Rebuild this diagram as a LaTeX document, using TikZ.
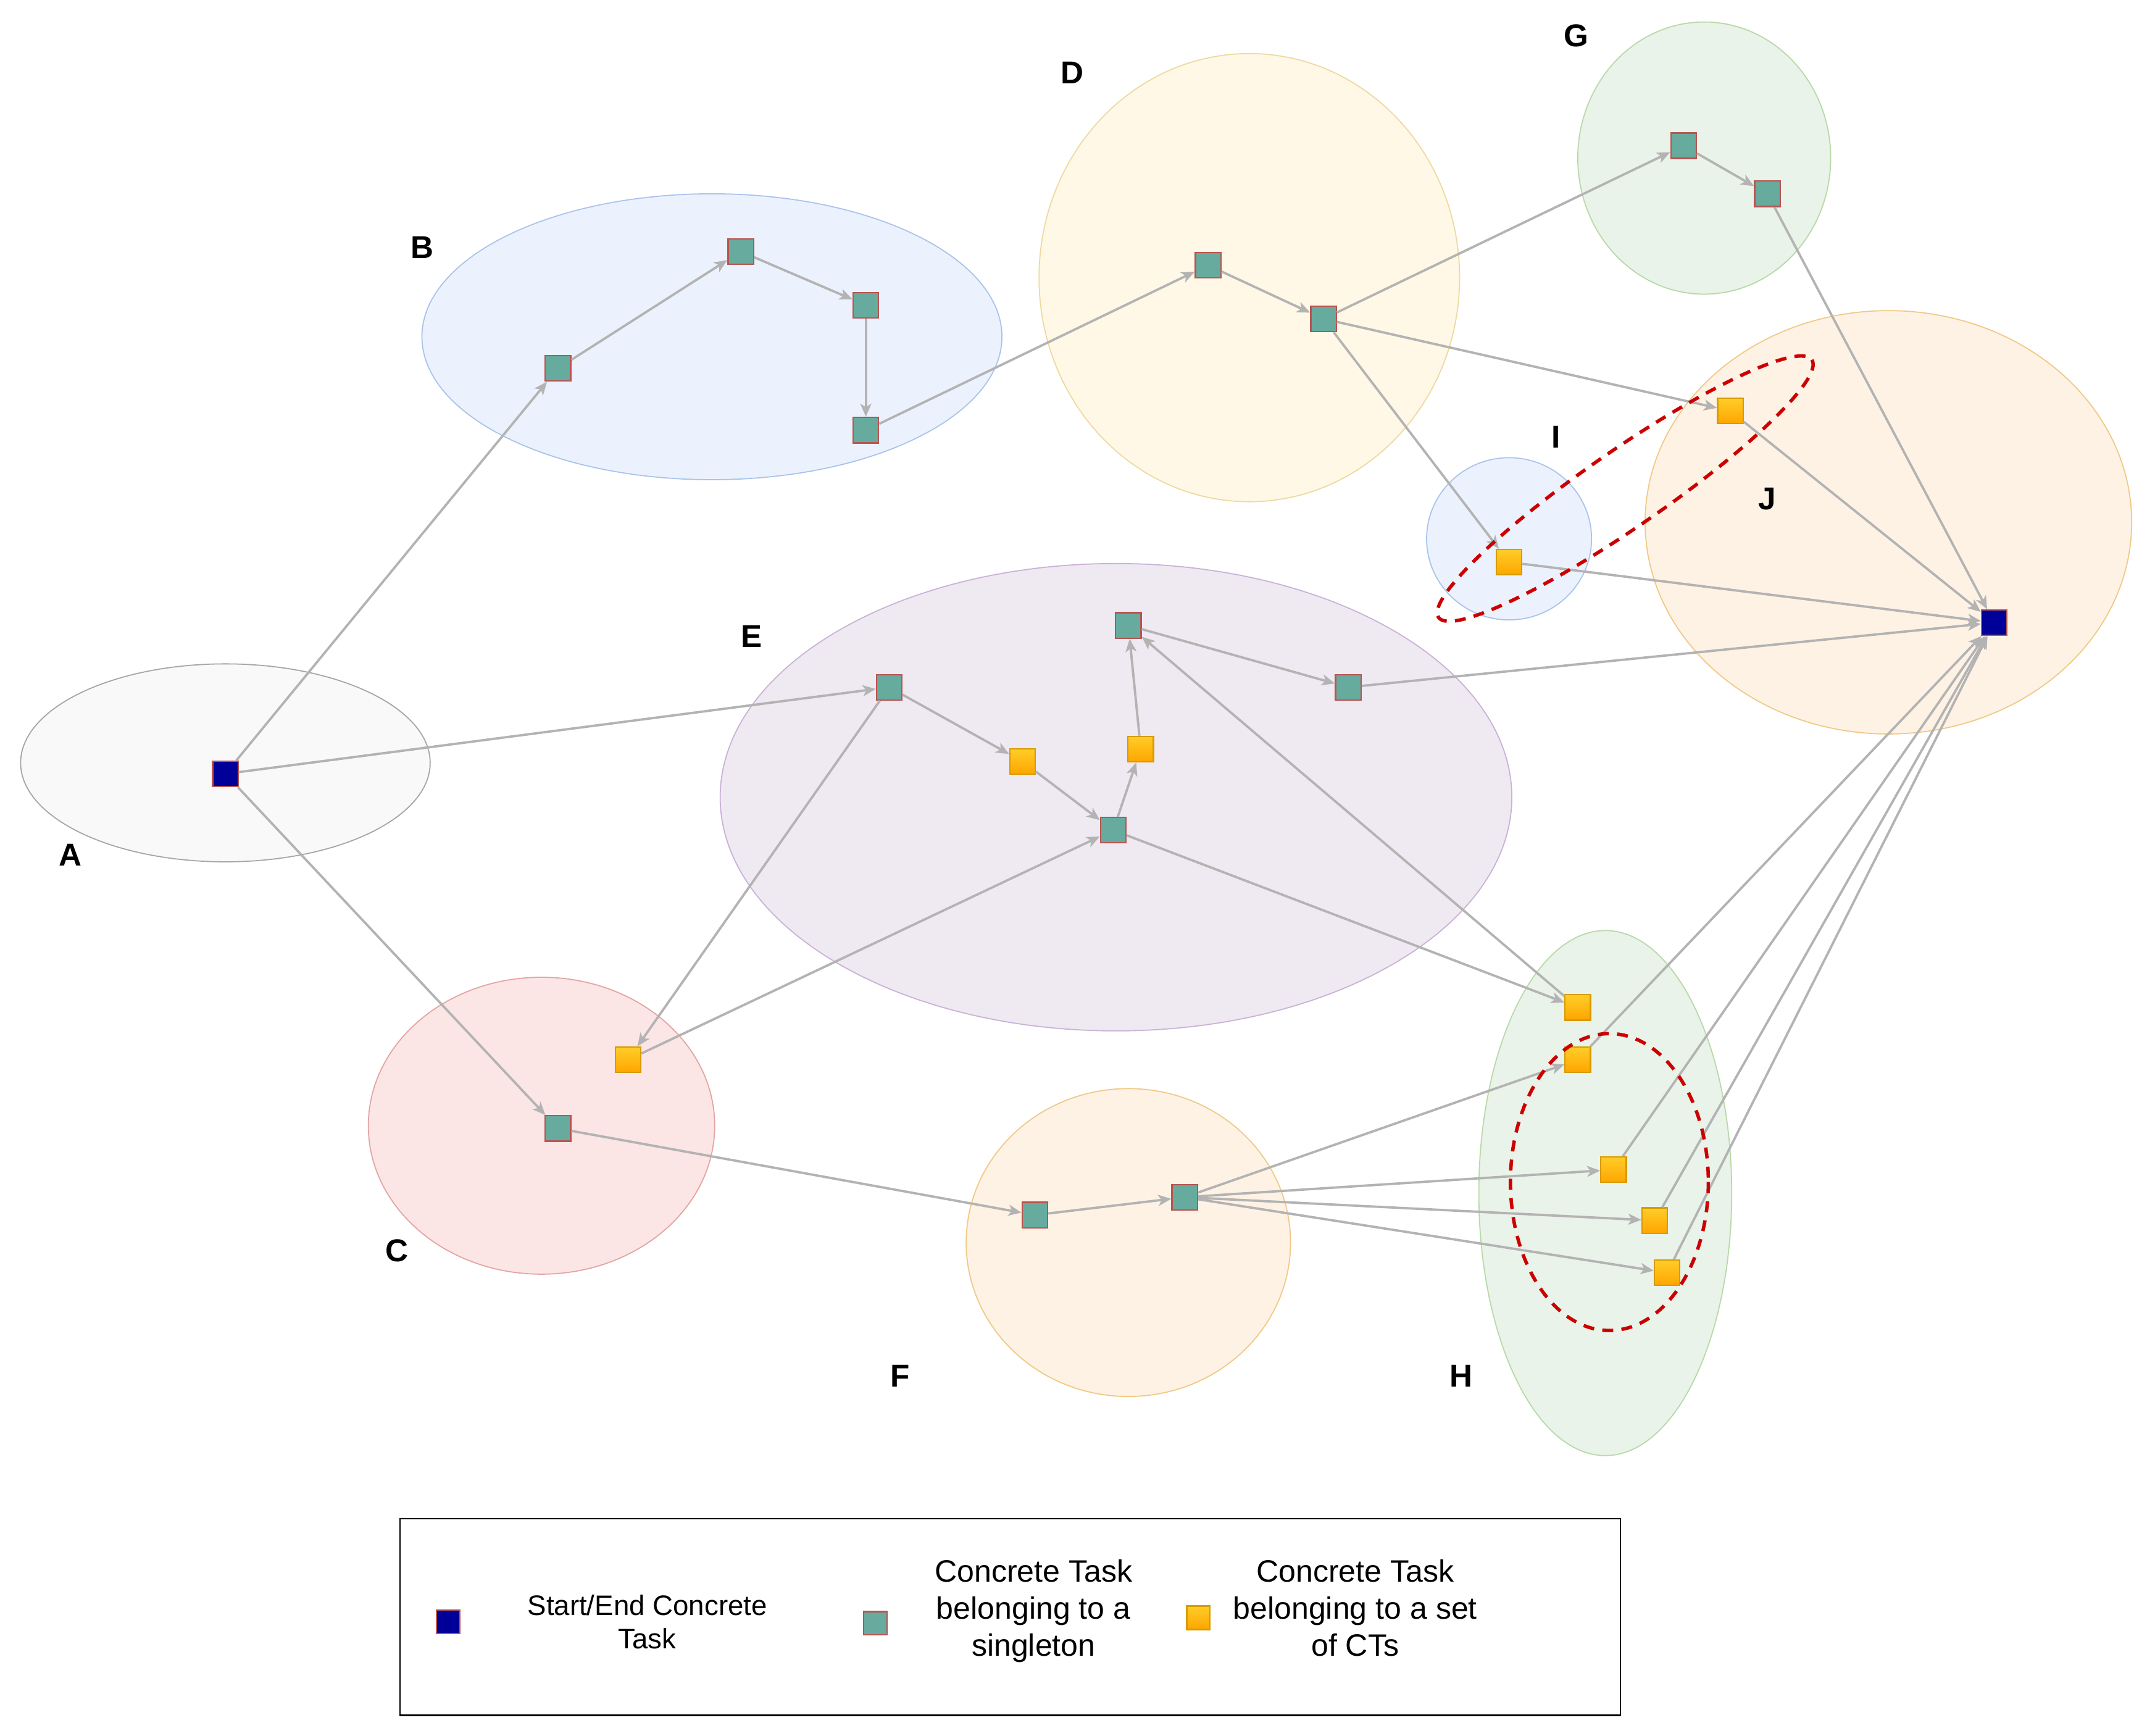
\documentclass[tikz,border=0pt]{standalone}
\usepackage{fontspec}
\setmainfont{Liberation Sans}
\usetikzlibrary{arrows.meta}
\definecolor{edgegray}{HTML}{B3B3B3}
\definecolor{sqborder}{HTML}{B85450}
\definecolor{darkblue}{HTML}{000099}
\definecolor{tealgreen}{HTML}{67AB9F}
\definecolor{yelborder}{HTML}{D79B00}
\definecolor{yeltop}{HTML}{FFCD28}
\definecolor{yelbot}{HTML}{FFA500}
\definecolor{dashred}{HTML}{CC0000}
\definecolor{aFill}{HTML}{F9F9F9}\definecolor{aDraw}{HTML}{A6A6A6}
\definecolor{bFill}{HTML}{ECF2FD}\definecolor{bDraw}{HTML}{A9C4EB}
\definecolor{cFill}{HTML}{FBE6E5}\definecolor{cDraw}{HTML}{E3A5A3}
\definecolor{dFill}{HTML}{FFF8E6}\definecolor{dDraw}{HTML}{EED9A0}
\definecolor{eFill}{HTML}{EFE9F2}\definecolor{eDraw}{HTML}{C9B2D6}
\definecolor{fFill}{HTML}{FEF2E5}\definecolor{fDraw}{HTML}{F0C987}
\definecolor{gFill}{HTML}{E9F3E9}\definecolor{gDraw}{HTML}{B8D9A8}
\begin{document}
\begin{tikzpicture}[x=1pt,y=-1pt,
  blob/.style={line width=0.8pt},
  sq/.style={minimum size=18.5pt, inner sep=0pt, line width=1pt, draw=sqborder},
  startend/.style={sq, fill=darkblue},
  single/.style={sq, fill=tealgreen},
  setct/.style={sq, draw=yelborder, top color=yeltop, bottom color=yelbot},
  flow/.style={draw=edgegray, line width=1.7pt, -{Stealth[length=9.5pt,width=8pt,inset=2.5pt]}},
  glabel/.style={font=\fontsize{23}{27}\selectfont\bfseries, inner sep=0pt},
  setring/.style={draw=dashred, line width=2.5pt, dash pattern=on 8pt off 6pt},
  legtext/.style={align=center, inner sep=0pt}
]
\useasboundingbox (0,0) rectangle (1568,1263);
\fill[white] (0,0) rectangle (1568,1263);

% group ellipses
\draw[blob, fill=aFill, draw=aDraw] (164,555) ellipse [x radius=149, y radius=72];
\draw[blob, fill=bFill, draw=bDraw] (518,245) ellipse [x radius=211, y radius=104];
\draw[blob, fill=cFill, draw=cDraw] (394,819) ellipse [x radius=126, y radius=108];
\draw[blob, fill=dFill, draw=dDraw] (909,202) ellipse [x radius=153, y radius=163];
\draw[blob, fill=eFill, draw=eDraw] (812,580) ellipse [x radius=288, y radius=170];
\draw[blob, fill=fFill, draw=fDraw] (821,904) ellipse [x radius=118, y radius=112];
\draw[blob, fill=gFill, draw=gDraw] (1240,115) ellipse [x radius=92, y radius=99];
\draw[blob, fill=gFill, draw=gDraw] (1168,868) ellipse [x radius=92, y radius=191];
\draw[blob, fill=bFill, draw=bDraw] (1098,392) ellipse [x radius=60, y radius=59];
\draw[blob, fill=fFill, draw=fDraw] (1374,380) ellipse [x radius=177, y radius=154];

% group labels
\node[glabel] (lA) at (51,622) {A};
\node[glabel] (lB) at (307,180) {B};
\node[glabel] (lC) at (289,910) {C};
\node[glabel] (lD) at (780,53) {D};
\node[glabel] (lE) at (547,463) {E};
\node[glabel] (lF) at (655,1001) {F};
\node[glabel] (lG) at (1147,26) {G};
\node[glabel] (lH) at (1063,1001) {H};
\node[glabel] (lI) at (1132,318) {I};
\node[glabel] (lJ) at (1286,363) {J};

% task nodes
\node[startend] (a0) at (164,563) {};
\node[startend] (end) at (1451,453) {};
\node[single] (b1) at (406,268) {};
\node[single] (b2) at (539,183) {};
\node[single] (b3) at (630,222) {};
\node[single] (b4) at (630,313) {};
\node[single] (d1) at (879,193) {};
\node[single] (d2) at (963,232) {};
\node[single] (g1) at (1225,106) {};
\node[single] (g2) at (1286,141) {};
\node[setct] (j1) at (1259,299) {};
\node[setct] (i1) at (1098,409) {};
\node[single] (e1) at (647,500) {};
\node[setct] (e2) at (744,554) {};
\node[single] (e3) at (810,604) {};
\node[setct] (e4) at (830,545) {};
\node[single] (e5) at (821,455) {};
\node[single] (e6) at (981,500) {};
\node[setct] (c1) at (457,771) {};
\node[single] (c2) at (406,821) {};
\node[single] (f1) at (753,884) {};
\node[single] (f2) at (862,871) {};
\node[setct] (h1) at (1148,733) {};
\node[setct] (h2) at (1148,771) {};
\node[setct] (h3) at (1174,851) {};
\node[setct] (h4) at (1204,888) {};
\node[setct] (h5) at (1213,926) {};

% connectors
\draw[flow] (a0) -- (b1);
\draw[flow] (b1) -- (b2);
\draw[flow] (b2) -- (b3);
\draw[flow] (b3) -- (b4);
\draw[flow] (b4) -- (d1);
\draw[flow] (d1) -- (d2);
\draw[flow] (d2) -- (g1);
\draw[flow] (g1) -- (g2);
\draw[flow] (g2) -- (end);
\draw[flow] (d2) -- (j1);
\draw[flow] (d2) -- (i1);
\draw[flow] (j1) -- (end);
\draw[flow] (i1) -- (end);
\draw[flow] (a0) -- (e1);
\draw[flow] (e1) -- (e2);
\draw[flow] (e2) -- (e3);
\draw[flow] (e3) -- (e4);
\draw[flow] (e4) -- (e5);
\draw[flow] (e5) -- (e6);
\draw[flow] (e6) -- (end);
\draw[flow] (e3) -- (h1);
\draw[flow] (h1) -- (e5);
\draw[flow] (e1) -- (c1);
\draw[flow] (c1) -- (e3);
\draw[flow] (a0) -- (c2);
\draw[flow] (c2) -- (f1);
\draw[flow] (f1) -- (f2);
\draw[flow] (f2) -- (h2);
\draw[flow] (f2) -- (h3);
\draw[flow] (f2) -- (h4);
\draw[flow] (f2) -- (h5);
\draw[flow] (h2) -- (end);
\draw[flow] (h3) -- (end);
\draw[flow] (h4) -- (end);
\draw[flow] (h5) -- (end);

% dashed set rings
\draw[setring, shift={(1182.5,355.5)}, rotate=34.6] (0,0) ellipse [x radius=165, y radius=28];
\draw[setring] (1171,860) ellipse [x radius=72, y radius=108];

% legend
\node[draw=black, line width=1pt, minimum width=888pt, minimum height=143pt, inner sep=0pt] (legend) at (735,1176.5) {};
\node[startend, minimum size=17pt] (k1) at (326,1180) {};
\node[single, minimum size=17pt] (k2) at (637,1181) {};
\node[setct, minimum size=17pt] (k3) at (872,1177) {};
\node[legtext, font=\fontsize{20.5}{24.5}\selectfont] (t1) at (471,1180) {Start/End Concrete\\Task};
\node[legtext, font=\fontsize{22.5}{27}\selectfont] (t2) at (752,1172) {Concrete Task\\belonging to a\\singleton};
\node[legtext, font=\fontsize{22.5}{27}\selectfont] (t3) at (986,1170) {Concrete Task\\belonging to a set\\of CTs};
\end{tikzpicture}
\end{document}
